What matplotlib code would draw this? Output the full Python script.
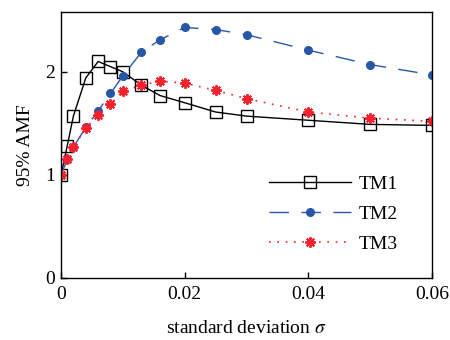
import matplotlib
matplotlib.use("Agg")
import matplotlib.pyplot as plt

plt.rcParams['font.family'] = ['Liberation Serif', 'DejaVu Serif']
plt.rcParams['mathtext.fontset'] = 'stix'

sigma = [0, 0.001, 0.002, 0.004, 0.006, 0.008, 0.010, 0.013, 0.016,
         0.020, 0.025, 0.030, 0.040, 0.050, 0.060]
tm1 = [1.00, 1.28, 1.57, 1.94, 2.10, 2.05, 2.00, 1.87, 1.77,
       1.70, 1.61, 1.57, 1.53, 1.49, 1.48]
tm2 = [1.00, 1.15, 1.27, 1.46, 1.62, 1.79, 1.96, 2.19, 2.31,
       2.43, 2.41, 2.36, 2.21, 2.07, 1.97]
tm3 = [1.00, 1.15, 1.27, 1.45, 1.58, 1.69, 1.81, 1.87, 1.91,
       1.89, 1.82, 1.74, 1.61, 1.55, 1.52]

blue = '#2857a8'
red = '#f5222d'

fig = plt.figure(figsize=(4.5, 3.4), dpi=100)
ax = fig.add_axes([0.1356, 0.1824, 0.8244, 0.7823])

ax.plot(sigma, tm1, color='black', lw=1.0, marker='s', ms=8.5,
        mfc='none', mec='black', mew=1.0, label='TM1')
ax.plot(sigma, tm2, color=blue, lw=1.0, dashes=(14, 9), marker='o',
        ms=5.5, mfc=blue, mec=blue, label='TM2')
ax.plot(sigma, tm3, color=red, lw=1.2, dashes=(1, 4), marker=(8, 2, 0),
        ms=7.5, mec=red, mew=1.4, label='TM3')

ax.set_xlim(0, 0.06)
ax.set_ylim(0, 2.58)
ax.set_xticks([0, 0.02, 0.04, 0.06])
ax.set_xticklabels(['0', '0.02', '0.04', '0.06'])
ax.set_yticks([0, 1, 2])
ax.tick_params(direction='in', length=4, width=1, labelsize=14)
ax.tick_params(axis='x', pad=6)
ax.tick_params(axis='y', pad=4)
for s in ax.spines.values():
    s.set_linewidth(1.0)

ax.set_xlabel(r'standard deviation $\sigma$', fontsize=14, labelpad=12)
ax.set_ylabel('95% AMF', fontsize=14, labelpad=8)

ax.legend(loc='lower right', bbox_to_anchor=(0.955, 0.03), frameon=False,
          fontsize=14, handlelength=4.2, handletextpad=0.4, labelspacing=0.62)

fig.savefig('out.png', dpi=100)
